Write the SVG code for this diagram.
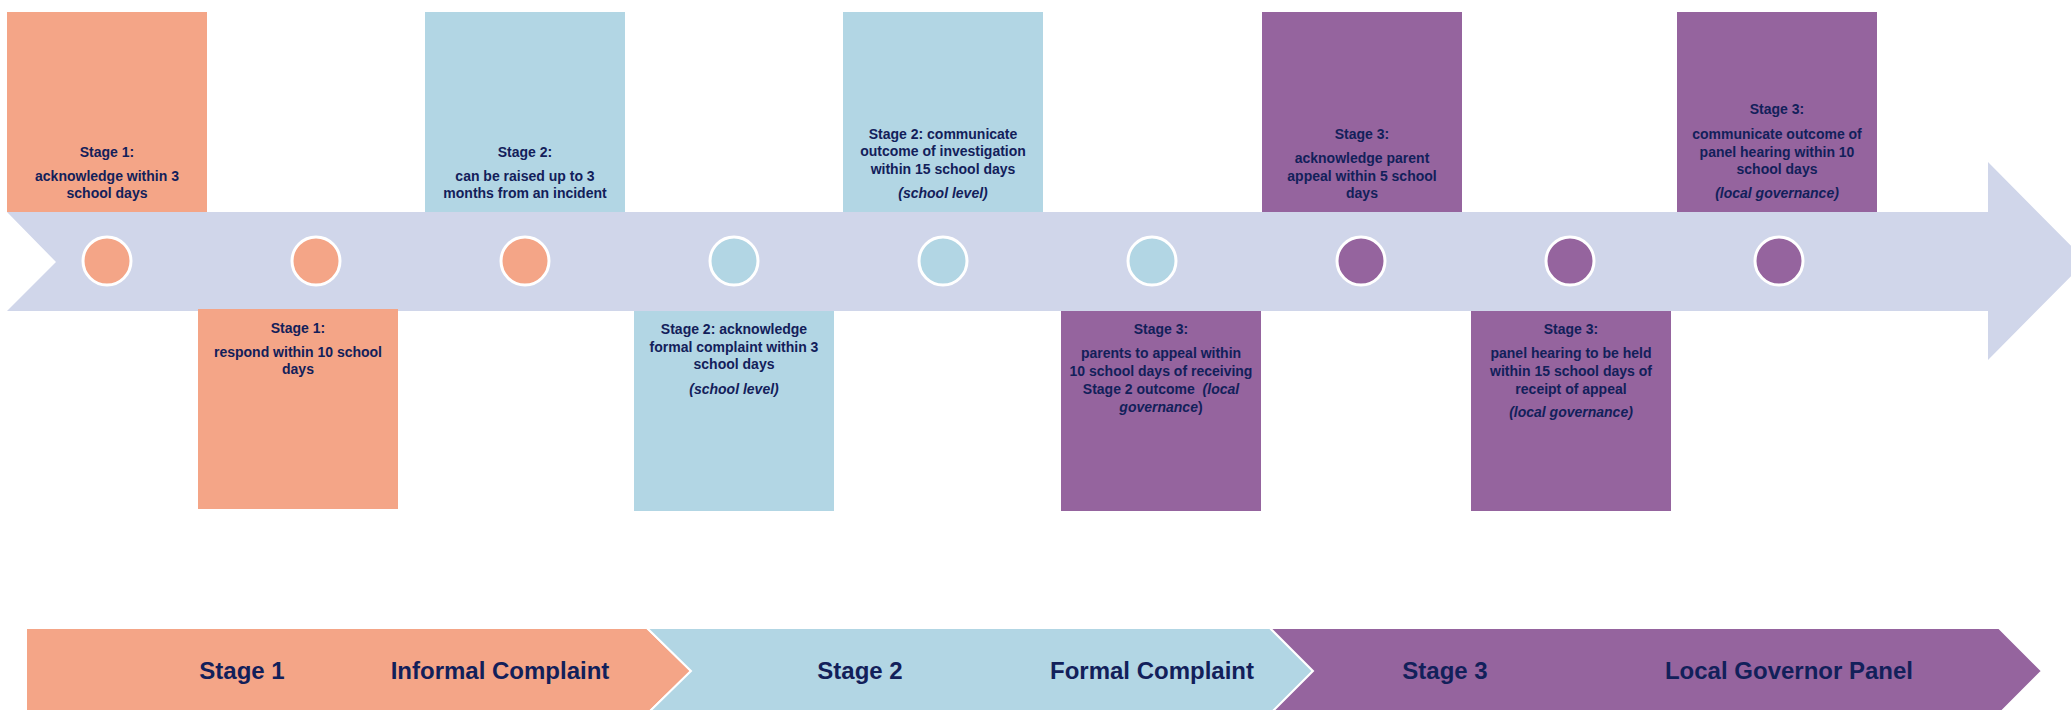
<svg xmlns="http://www.w3.org/2000/svg" width="2071" height="710" viewBox="0 0 2071 710">
<style>
.o{fill:#F4A587}.b{fill:#B2D6E4}.p{fill:#95649E}
.dot{stroke:#FFFFFF;stroke-width:3}
.t{font-family:"Liberation Sans",Arial,sans-serif;font-weight:bold;font-size:14px;fill:#12205A;text-anchor:middle}
.i{font-style:italic}
.band{stroke:#FFFFFF;stroke-width:2}
.bt{font-family:"Liberation Sans",Arial,sans-serif;font-weight:bold;font-size:24px;fill:#12205A;text-anchor:middle}
</style>
<rect width="2071" height="710" fill="#FFFFFF"/>
<g id="connectors">
<polygon id="timeline-bar" points="7,212 1988,212 1988,162 2086,261 1988,360 1988,311 7,311 56,262" fill="#D0D6EA"/>
</g>
<g id="box-s1-ack">
<rect class="o" x="7" y="12" width="200" height="200"/>
<text class="t"><tspan x="107" y="157">Stage 1:</tspan><tspan x="107" y="181">acknowledge within 3</tspan><tspan x="107" y="198">school days</tspan></text>
</g>
<g id="box-s1-respond">
<rect class="o" x="198" y="309" width="200" height="200"/>
<text class="t"><tspan x="298" y="333">Stage 1:</tspan><tspan x="298" y="357">respond within 10 school</tspan><tspan x="298" y="374">days</tspan></text>
</g>
<g id="box-s2-raise">
<rect class="b" x="425" y="12" width="200" height="200"/>
<text class="t"><tspan x="525" y="157">Stage 2:</tspan><tspan x="525" y="181">can be raised up to 3</tspan><tspan x="525" y="198">months from an incident</tspan></text>
</g>
<g id="box-s2-ack">
<rect class="b" x="634" y="311" width="200" height="200"/>
<text class="t"><tspan x="734" y="334">Stage 2: acknowledge</tspan><tspan x="734" y="352">formal complaint within 3</tspan><tspan x="734" y="369">school days</tspan><tspan x="734" y="394" class="i">(school level)</tspan></text>
</g>
<g id="box-s2-outcome">
<rect class="b" x="843" y="12" width="200" height="200"/>
<text class="t"><tspan x="943" y="139">Stage 2: communicate</tspan><tspan x="943" y="156">outcome of investigation</tspan><tspan x="943" y="174">within 15 school days</tspan><tspan x="943" y="198" class="i">(school level)</tspan></text>
</g>
<g id="box-s3-appeal">
<rect class="p" x="1061" y="311" width="200" height="200"/>
<text class="t"><tspan x="1161" y="334">Stage 3:</tspan><tspan x="1161" y="358">parents to appeal within</tspan><tspan x="1161" y="376">10 school days of receiving</tspan><tspan x="1161" y="394">Stage 2 outcome &#160;<tspan class="i">(local</tspan></tspan><tspan x="1161" y="412"><tspan class="i">governance</tspan>)</tspan></text>
</g>
<g id="box-s3-ack">
<rect class="p" x="1262" y="12" width="200" height="200"/>
<text class="t"><tspan x="1362" y="139">Stage 3:</tspan><tspan x="1362" y="163">acknowledge parent</tspan><tspan x="1362" y="181">appeal within 5 school</tspan><tspan x="1362" y="198">days</tspan></text>
</g>
<g id="box-s3-hearing">
<rect class="p" x="1471" y="311" width="200" height="200"/>
<text class="t"><tspan x="1571" y="334">Stage 3:</tspan><tspan x="1571" y="358">panel hearing to be held</tspan><tspan x="1571" y="376">within 15 school days of</tspan><tspan x="1571" y="394">receipt of appeal</tspan><tspan x="1571" y="417" class="i">(local governance)</tspan></text>
</g>
<g id="box-s3-outcome">
<rect class="p" x="1677" y="12" width="200" height="200"/>
<text class="t"><tspan x="1777" y="114">Stage 3:</tspan><tspan x="1777" y="139">communicate outcome of</tspan><tspan x="1777" y="157">panel hearing within 10</tspan><tspan x="1777" y="174">school days</tspan><tspan x="1777" y="198" class="i">(local governance)</tspan></text>
</g>
<g id="dots">
<circle class="o dot" cx="107" cy="261" r="24"/>
<circle class="o dot" cx="316" cy="261" r="24"/>
<circle class="o dot" cx="525" cy="261" r="24"/>
<circle class="b dot" cx="734" cy="261" r="24"/>
<circle class="b dot" cx="943" cy="261" r="24"/>
<circle class="b dot" cx="1152" cy="261" r="24"/>
<circle class="p dot" cx="1361" cy="261" r="24"/>
<circle class="p dot" cx="1570" cy="261" r="24"/>
<circle class="p dot" cx="1779" cy="261" r="24"/>
</g>
<g id="band-stage1">
<polygon class="o band" points="26,628 647,628 691,671 647,714 26,714"/>
<text class="bt" x="242" y="679">Stage 1</text>
<text class="bt" x="500" y="679">Informal Complaint</text>
</g>
<g id="band-stage2">
<polygon class="b band" points="647,628 1270,628 1313,671 1270,714 647,714 691,671"/>
<text class="bt" x="860" y="679">Stage 2</text>
<text class="bt" x="1152" y="679">Formal Complaint</text>
</g>
<g id="band-stage3">
<polygon class="p band" points="1270,628 1999,628 2042,671 1999,714 1270,714 1313,671"/>
<text class="bt" x="1445" y="679">Stage 3</text>
<text class="bt" x="1789" y="679">Local Governor Panel</text>
</g>
</svg>
